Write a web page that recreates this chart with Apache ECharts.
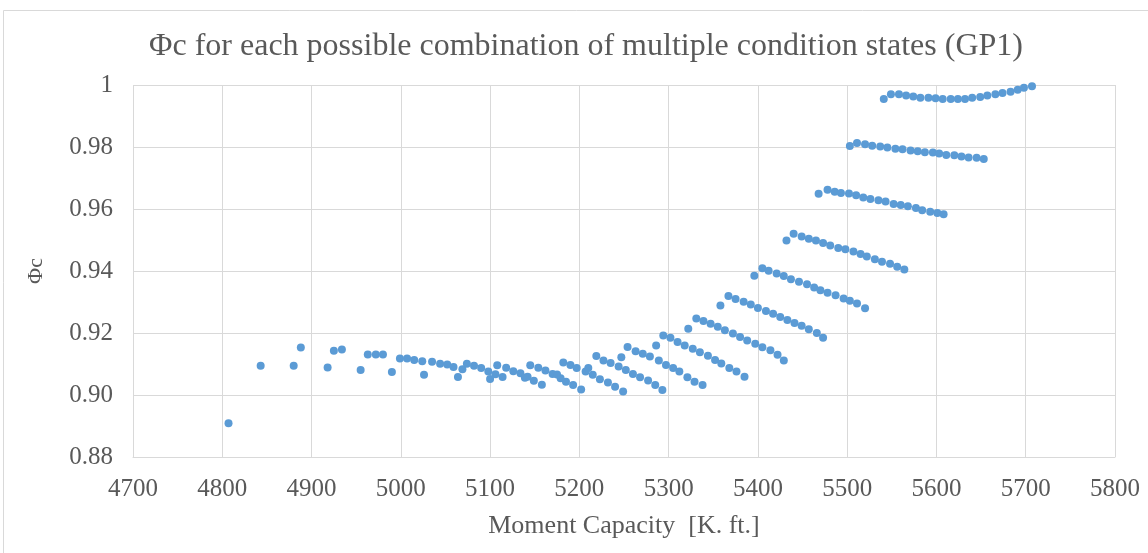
<!DOCTYPE html>
<html>
<head>
<meta charset="utf-8">
<style>
  html, body { margin: 0; padding: 0; background: #fff; }
  #main { width: 1148px; height: 553px; }
</style>
<script src="https://cdn.jsdelivr.net/npm/echarts@6/dist/echarts.min.js"></script>
</head>
<body>
<div id="main"></div>
<script>
// moment capacity [K. ft.], one line per combination group
var capacity = [
  4807,
  4843,
  4880, 4888,
  4918, 4925, 4934,
  4955, 4963, 4972, 4980,
  4990, 4999, 5007, 5015, 5024,
  5026, 5035, 5044, 5052, 5059, 5069,
  5064, 5074, 5082, 5090, 5098, 5106, 5114,
  5100, 5108, 5118, 5126, 5134, 5142, 5149, 5158,
  5139, 5145, 5154, 5162, 5170, 5179, 5185, 5193, 5202,
  5175, 5182, 5190, 5197, 5207, 5215, 5223, 5232, 5240, 5249,
  5210, 5219, 5227, 5235, 5244, 5252, 5260, 5268, 5277, 5285, 5293,
  5247, 5254, 5263, 5271, 5279, 5289, 5297, 5305, 5312, 5321, 5329, 5338,
  5286, 5294, 5302, 5310, 5318, 5327, 5335, 5344, 5352, 5359, 5368, 5376, 5385,
  5322, 5331, 5339, 5347, 5355, 5363, 5372, 5380, 5388, 5397, 5405, 5414, 5422, 5429,
  5358, 5367, 5375, 5384, 5392, 5400, 5409, 5417, 5425, 5433, 5441, 5449, 5457, 5466, 5473,
  5396, 5405, 5412, 5421, 5429, 5437, 5446, 5455, 5463, 5470, 5478, 5487, 5496, 5503, 5511, 5520,
  5432, 5440, 5449, 5457, 5465, 5473, 5481, 5490, 5498, 5507, 5515, 5522, 5531, 5539, 5548, 5556, 5564,
  5468, 5478, 5486, 5493, 5502, 5510, 5518, 5526, 5535, 5543, 5552, 5560, 5568, 5577, 5584, 5593, 5601, 5608,
  5503, 5511, 5520, 5528, 5537, 5545, 5554, 5562, 5571, 5579, 5587, 5596, 5603, 5611, 5620, 5628, 5636, 5645, 5653,
  5541, 5549, 5558, 5566, 5574, 5582, 5591, 5599, 5607, 5616, 5624, 5632, 5640, 5649, 5657, 5666, 5674, 5683, 5691, 5698, 5707
];

// phi c, same order as capacity
var phiC = [
  0.8909,
  0.9094,
  0.9094, 0.9153,
  0.9089, 0.9143, 0.9147,
  0.9081, 0.9131, 0.9131, 0.9131,
  0.9074, 0.9118, 0.9118, 0.9113, 0.9109,
  0.9065, 0.9107, 0.9101, 0.9098, 0.9090, 0.9083,
  0.9058, 0.9101, 0.9094, 0.9087, 0.9076, 0.9067, 0.9058,
  0.9052, 0.9096, 0.9088, 0.9077, 0.9070, 0.9059, 0.9046, 0.9033,
  0.9056, 0.9096, 0.9088, 0.9079, 0.9068, 0.9054, 0.9043, 0.9032, 0.9018,
  0.9066, 0.9105, 0.9097, 0.9087, 0.9076, 0.9065, 0.9051, 0.9040, 0.9027, 0.9011,
  0.9087, 0.9126, 0.9111, 0.9103, 0.9092, 0.9081, 0.9068, 0.9057, 0.9047, 0.9032, 0.9016,
  0.9122, 0.9155, 0.9141, 0.9133, 0.9124, 0.9111, 0.9097, 0.9087, 0.9076, 0.9057, 0.9043, 0.9032,
  0.9160, 0.9192, 0.9185, 0.9171, 0.9160, 0.9149, 0.9138, 0.9127, 0.9113, 0.9102, 0.9087, 0.9076, 0.9059,
  0.9214, 0.9247, 0.9239, 0.9230, 0.9220, 0.9209, 0.9198, 0.9187, 0.9176, 0.9165, 0.9154, 0.9144, 0.9130, 0.9111,
  0.9289, 0.9319, 0.9310, 0.9301, 0.9292, 0.9281, 0.9271, 0.9262, 0.9252, 0.9242, 0.9232, 0.9223, 0.9212, 0.9200, 0.9185,
  0.9385, 0.9409, 0.9401, 0.9392, 0.9384, 0.9373, 0.9365, 0.9357, 0.9347, 0.9338, 0.9330, 0.9322, 0.9311, 0.9304, 0.9295, 0.9280,
  0.9498, 0.9520, 0.9511, 0.9504, 0.9498, 0.9490, 0.9482, 0.9474, 0.9470, 0.9463, 0.9455, 0.9447, 0.9438, 0.9430, 0.9423, 0.9414, 0.9405,
  0.9649, 0.9662, 0.9656, 0.9652, 0.9650, 0.9644, 0.9637, 0.9632, 0.9628, 0.9624, 0.9616, 0.9613, 0.9609, 0.9603, 0.9596, 0.9591, 0.9587, 0.9583,
  0.9803, 0.9813, 0.9809, 0.9804, 0.9802, 0.9798, 0.9794, 0.9793, 0.9789, 0.9786, 0.9783, 0.9782, 0.9779, 0.9774, 0.9773, 0.9769, 0.9766, 0.9765, 0.9761,
  0.9955, 0.9970, 0.9970, 0.9966, 0.9963, 0.9959, 0.9959, 0.9957, 0.9955, 0.9955, 0.9955, 0.9955, 0.9959, 0.9961, 0.9966, 0.9970, 0.9974, 0.9978, 0.9985, 0.9991, 0.9996
];

var xTicks = [4700, 5800, 100];
var yTicks = [0.88, 1, 0.02];

var points = capacity.map(function (c, i) { return [c, phiC[i]]; });

var serif = '"Liberation Serif", "DejaVu Serif", serif';
var textColor = '#595959';

var myChart = echarts.init(document.getElementById('main'));

var option = {
    animation: false,
    backgroundColor: '#fff',
    title: {
        text: 'Φc for each possible combination of multiple condition states (GP1)',
        left: 581,
        top: 26,
        textAlign: 'center',
        textStyle: { fontFamily: serif, fontSize: 32, fontWeight: 'normal', color: textColor }
    },
    graphic: [{
        type: 'rect',
        shape: { x: 3.5, y: 10.5, width: 1200, height: 600 },
        style: { fill: 'none', stroke: '#d9d9d9', lineWidth: 1 },
        silent: true
    }],
    grid: { left: 133, right: 33, top: 85, bottom: 96 },
    xAxis: {
        type: 'value',
        min: xTicks[0], max: xTicks[1], interval: xTicks[2],
        name: 'Moment Capacity  [K. ft.]',
        nameLocation: 'middle',
        nameGap: 56,
        nameTextStyle: { fontFamily: serif, fontSize: 26, color: textColor },
        axisLine: { show: true, lineStyle: { color: '#d9d9d9' } },
        axisTick: { show: false },
        axisLabel: {
            fontFamily: serif, fontSize: 25, color: textColor, margin: 20,
            formatter: function (v) { return String(v); }
        },
        splitLine: { show: true, lineStyle: { color: '#d9d9d9' } }
    },
    yAxis: {
        type: 'value',
        min: yTicks[0], max: yTicks[1], interval: yTicks[2],
        name: 'Φc',
        nameLocation: 'middle',
        nameGap: 86,
        nameTextStyle: { fontFamily: serif, fontSize: 22, color: textColor },
        axisLine: { show: false },
        axisTick: { show: false },
        axisLabel: {
            fontFamily: serif, fontSize: 25, color: textColor, margin: 20,
            formatter: function (v) { return v === 1 ? '1' : v.toFixed(2); }
        },
        splitLine: { show: true, lineStyle: { color: '#d9d9d9' } }
    },
    series: [{
        type: 'scatter',
        data: points,
        symbolSize: 8,
        itemStyle: { color: '#5b9bd5', opacity: 1 }
    }]
};

myChart.setOption(option);
</script>
</body>
</html>
